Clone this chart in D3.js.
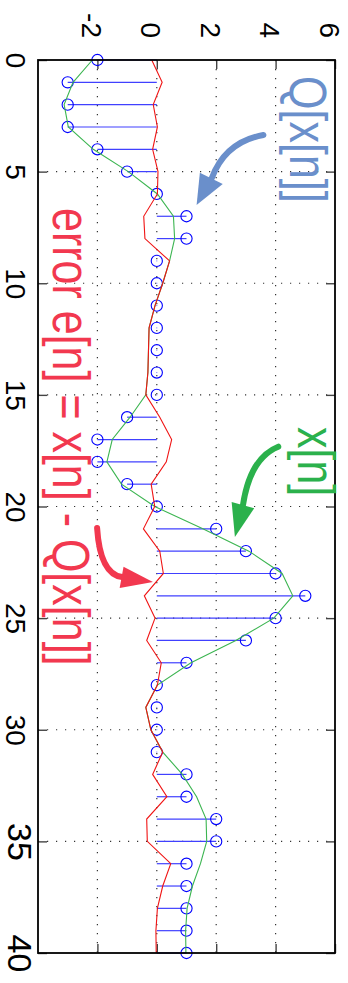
<!DOCTYPE html>
<html>
<head>
<meta charset="utf-8">
<script src="https://cdn.jsdelivr.net/npm/d3@7"></script>
<style>
	body { margin: 0; background: #fff; }
	svg { display: block; font-family: "Liberation Sans", Arial, sans-serif; }
</style>
</head>
<body>
<svg id="chart" width="348" height="983"></svg>
<script>
// sample index n (vertical axis in the rotated figure)
const nValues = d3.range(0, 41);

// original signal x[n]
const signalX = [
	-2.17, -2.82, -3.12, -2.98, -2.14, -0.96, 0.02, 0.56, 0.6, 0.43,
	0.2, -0.06, -0.26, -0.28, -0.3, -0.37, -0.9, -1.5, -1.68, -1.19,
	-0.07, 1.55, 3.1, 4.22, 4.58, 3.94, 2.66, 1.15, 0.02, -0.37,
	-0.2, 0.2, 0.86, 1.34, 1.66, 1.68, 1.47, 1.2, 1.02, 0.97, 0.98
];

// quantized signal Q[x[n]]
const quantized = [
	-2, -3, -3, -3, -2, -1, 0, 1, 1, 0,
	0, 0, 0, 0, 0, 0, -1, -2, -2, -1,
	0, 2, 3, 4, 5, 4, 3, 1, 0, 0,
	0, 0, 1, 1, 2, 2, 1, 1, 1, 1, 1
];

// error e[n] = x[n] - Q[x[n]]
const errorE = [
	-0.17, 0.18, -0.12, 0.02, -0.14, 0.04, 0.02, -0.44, -0.4, 0.43,
	0.2, -0.06, -0.26, -0.28, -0.3, -0.37, 0.1, 0.5, 0.32, -0.19,
	-0.07, -0.45, 0.1, 0.22, -0.42, -0.06, -0.34, 0.15, 0.02, -0.37,
	-0.2, 0.2, -0.14, 0.34, -0.34, -0.32, 0.47, 0.2, 0.02, -0.03, -0.02
];

const nTicks = [0, 5, 10, 15, 20, 25, 30, 35, 40];
const valueTicks = [-2, 0, 2, 4, 6];
const nGrid = [5, 10, 15, 20, 25, 30, 35];
const valueGrid = [-2, 0, 2, 4];

const svg = d3.select('#chart'),
	box = {left: 38, right: 335, top: 60, bottom: 953};

// figure is drawn rotated: n runs down, values run right
const yN = d3.scaleLinear().domain([0, 40]).range([box.top, box.bottom]),
	xV = d3.scaleLinear().domain([-4, 6]).range([box.left, box.right]);

// dotted grid
svg.append('g')
	.selectAll('line')
	.data(nGrid)
	.enter().append('line')
	.attr('x1', box.left).attr('x2', box.right)
	.attr('y1', d => yN(d)).attr('y2', d => yN(d))
	.attr('stroke', '#333')
	.attr('stroke-width', 1.2)
	.attr('stroke-dasharray', '1.2,7.8');

svg.append('g')
	.selectAll('line')
	.data(valueGrid)
	.enter().append('line')
	.attr('x1', d => xV(d)).attr('x2', d => xV(d))
	.attr('y1', box.top).attr('y2', box.bottom)
	.attr('stroke', '#333')
	.attr('stroke-width', 1.2)
	.attr('stroke-dasharray', '1.2,7.8');

// axes: ticks point inward on all four sides
const leftAxis = svg.append('g')
	.attr('transform', `translate(${box.left}, 0)`)
	.call(d3.axisLeft(yN).tickValues(nTicks).tickSizeInner(-9).tickSizeOuter(0).tickFormat(d => String(d)));

leftAxis.selectAll('.tick text')
	.attr('x', null).attr('dy', null)
	.attr('fill', '#000')
	.attr('text-anchor', 'middle')
	.attr('font-size', d => d >= 35 ? 34 : 28)
	.attr('transform', d => d >= 35 ? 'translate(-30.5, 0) rotate(90)' : 'translate(-32.5, 0) rotate(90)');

const topAxis = svg.append('g')
	.attr('transform', `translate(0, ${box.top})`)
	.call(d3.axisTop(xV).tickValues(valueTicks).tickSizeInner(-9).tickSizeOuter(0).tickFormat(d => String(d)));

topAxis.selectAll('.tick text')
	.attr('y', null).attr('dy', null)
	.attr('fill', '#000')
	.attr('text-anchor', 'end')
	.attr('font-size', 28)
	.attr('transform', 'translate(-16, -22) rotate(90)');

svg.append('g')
	.attr('transform', `translate(${box.right}, 0)`)
	.call(d3.axisRight(yN).tickValues(nTicks).tickSizeInner(-9).tickSizeOuter(0).tickFormat(''));

svg.append('g')
	.attr('transform', `translate(0, ${box.bottom})`)
	.call(d3.axisBottom(xV).tickValues(valueTicks).tickSizeInner(-9).tickSizeOuter(0).tickFormat(''));

svg.selectAll('.domain').remove();
svg.selectAll('.tick line').attr('stroke', '#444').attr('stroke-width', 1.4);

// stems for Q[x[n]]
const stems = svg.append('g');
stems.selectAll('line')
	.data(nValues)
	.enter().append('line')
	.attr('x1', xV(0))
	.attr('x2', i => xV(quantized[i]))
	.attr('y1', i => yN(i))
	.attr('y2', i => yN(i))
	.attr('stroke', '#4040ff')
	.attr('stroke-width', 1.2);

stems.selectAll('rect')
	.data(nValues.filter(i => quantized[i] === 0))
	.enter().append('rect')
	.attr('x', xV(0) - 0.5)
	.attr('y', i => yN(i) - 0.5)
	.attr('width', 1).attr('height', 1)
	.attr('fill', '#6f6fff');

stems.selectAll('circle')
	.data(nValues)
	.enter().append('circle')
	.attr('cx', i => xV(quantized[i]))
	.attr('cy', i => yN(i))
	.attr('r', 5.6)
	.attr('fill', 'none')
	.attr('stroke', '#0000ff')
	.attr('stroke-width', 1.1);

// x[n] and e[n]
const lineOf = arr => d3.line()
	.x(i => xV(arr[i]))
	.y(i => yN(i));

svg.append('path')
	.datum(nValues)
	.attr('fill', 'none')
	.attr('stroke', '#3cb551')
	.attr('stroke-width', 1.1)
	.attr('d', lineOf(signalX));

svg.append('path')
	.datum(nValues)
	.attr('fill', 'none')
	.attr('stroke', '#f01414')
	.attr('stroke-width', 1.1)
	.attr('d', lineOf(errorE));

// frame
svg.append('rect')
	.attr('x', box.left).attr('y', box.top)
	.attr('width', box.right - box.left)
	.attr('height', box.bottom - box.top)
	.attr('fill', 'none')
	.attr('stroke', '#000')
	.attr('stroke-width', 1.8);

// annotations, anchored in data units
const notes = [
	{text: 'Q[x[n]]', color: '#6a8fcb', v: 4.5, n: 0.72, size: 43},
	{text: 'x[n]', color: '#2bb14c', v: 4.76, n: 16.44, size: 43},
	{text: 'error e[n] = x[n] - Q[x[n]]', color: '#f2384f', v: -3.48, n: 6.63, size: 43}
];

svg.append('g')
	.selectAll('text')
	.data(notes)
	.enter().append('text')
	.attr('fill', d => d.color)
	.attr('font-size', d => d.size)
	.attr('transform', d => `translate(${xV(d.v)}, ${yN(d.n)}) rotate(90) scale(1, 1.2)`)
	.text(d => d.text);

const arrows = [
	{color: '#6a8fcb', s: [3.59, 3.36], c: [2.3, 3.67], b: [1.85, 5.3], h1: [1.45, 5.05], h2: [2.22, 5.55], t: [1.34, 6.49]},
	{color: '#2bb14c', s: [4.09, 17.32], c: [3.14, 17.83], b: [2.9, 19.95], h1: [2.52, 19.8], h2: [3.28, 20.08], t: [2.63, 21.37]},
	{color: '#f2384f', s: [-2.01, 20.96], c: [-1.91, 23.02], b: [-1.17, 23.16], h1: [-1.12, 22.7], h2: [-1.25, 23.65], t: [-0.13, 23.38]}
];

const pt = p => [xV(p[0]), yN(p[1])];

const arrowG = svg.append('g');
arrowG.selectAll('path.shaft')
	.data(arrows)
	.enter().append('path')
	.attr('class', 'shaft')
	.attr('fill', 'none')
	.attr('stroke', d => d.color)
	.attr('stroke-width', 6)
	.attr('stroke-linecap', 'round')
	.attr('d', d => {
		const p = d3.path(), s = pt(d.s), c = pt(d.c), b = pt(d.b);
		p.moveTo(s[0], s[1]);
		p.quadraticCurveTo(c[0], c[1], b[0], b[1]);
		return p.toString();
	});

arrowG.selectAll('path.head')
	.data(arrows)
	.enter().append('path')
	.attr('class', 'head')
	.attr('fill', d => d.color)
	.attr('d', d => 'M' + [pt(d.h1), pt(d.t), pt(d.h2)].map(q => q.join(',')).join('L') + 'Z');
</script>
</body>
</html>
